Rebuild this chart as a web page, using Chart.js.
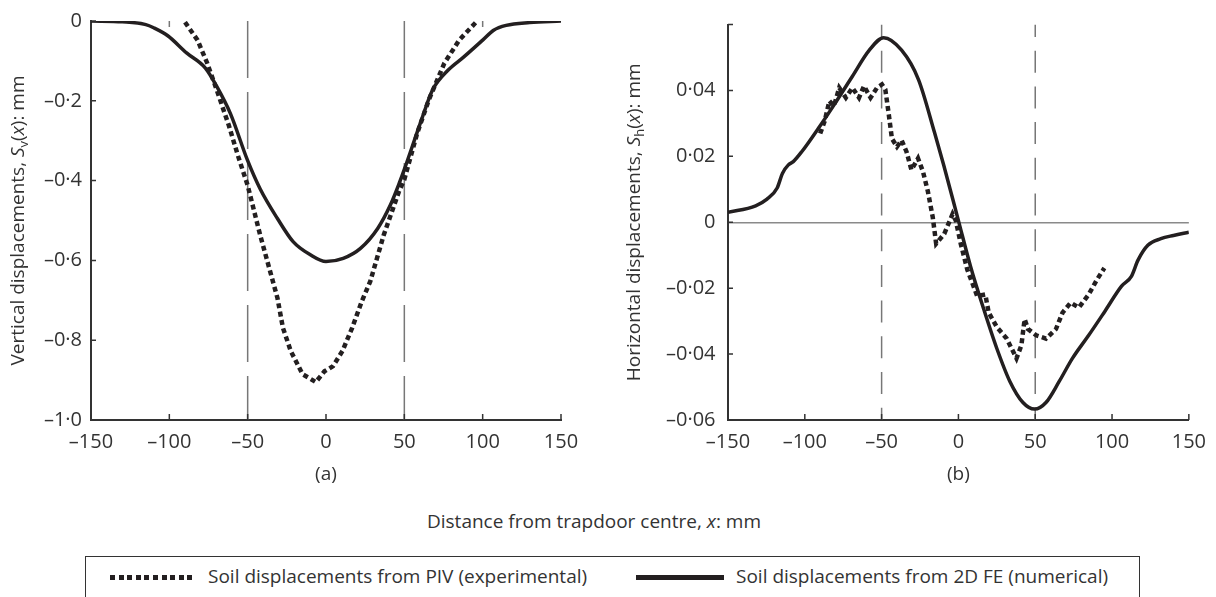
<!DOCTYPE html>
<html>
<head>
<meta charset="utf-8">
<script src="https://cdn.jsdelivr.net/npm/chart.js@4.4.1/dist/chart.umd.min.js"></script>
<style>
    body { margin: 0; width: 1216px; height: 597px; overflow: hidden; background: #fff; position: relative;
           font-family: 'Open Sans', sans-serif; color: #333; }
    canvas { position: absolute; top: 0; }
    #cvA { left: 0; }
    #cvB { left: 600px; }
    #xTitle { position: absolute; left: 0; width: 1188px; top: 510px; text-align: center; font-size: 19px; line-height: 23px; }
    #legend { position: absolute; left: 85px; top: 556px; width: 1055px; height: 70px; border: 1.5px solid #333; box-sizing: border-box; }
    .key { position: absolute; top: 18px; height: 4.5px; }
    .key.dots { left: 24px; width: 86px; background: repeating-linear-gradient(to right, #231f20 0 5px, transparent 5px 8.6px); }
    .key.solid { left: 550px; width: 88px; background: #231f20; }
    .lbl { position: absolute; top: 8px; font-size: 19px; line-height: 23px; white-space: nowrap; }
</style>
</head>
<body>
<canvas id="cvA" width="600" height="500"></canvas>
<canvas id="cvB" width="616" height="500"></canvas>
<div id="xTitle">Distance from trapdoor centre, <i>x</i>: mm</div>
<div id="legend">
    <div class="key dots"></div><div class="lbl" style="left:122px">Soil displacements from PIV (experimental)</div>
    <div class="key solid"></div><div class="lbl" style="left:650px">Soil displacements from 2D FE (numerical)</div>
</div>
<script>
// axes
const xTicks = [-150, -100, -50, 0, 50, 100, 150];
const trapdoorEdges = [-50, 50];
const topMarks = [-100, 100];
const vertTicks = [0, -0.2, -0.4, -0.6, -0.8, -1.0];
const horzTicks = [0.06, 0.04, 0.02, 0, -0.02, -0.04, -0.06];

// (a) vertical displacements
const vertFeX = [-150, -130, -115, -110, -101, -89, -77, -70, -61, -50, -42, -31, -21, -10, 0, 11, 22, 33, 41, 47, 50, 61, 68, 78, 88, 100, 107, 115, 130, 150];
const vertFeY = [0, -0.002, -0.009, -0.017, -0.037, -0.080, -0.118, -0.162, -0.232, -0.350, -0.421, -0.495, -0.553, -0.586, -0.603, -0.595, -0.570, -0.520, -0.462, -0.404, -0.372, -0.247, -0.173, -0.123, -0.090, -0.048, -0.023, -0.011, -0.004, 0];
const vertPivX = [-90, -82, -76, -70, -62, -56, -50, -42, -31, -27.5, -22.5, -15, -6.5, -1, 4.5, 10.5, 16.7, 22.8, 28.3, 36.8, 46.4, 50, 58.3, 65.7, 75.5, 85, 96];
const vertPivY = [-0.003, -0.048, -0.104, -0.170, -0.262, -0.340, -0.412, -0.537, -0.694, -0.769, -0.827, -0.885, -0.905, -0.878, -0.865, -0.827, -0.769, -0.703, -0.652, -0.537, -0.429, -0.397, -0.280, -0.197, -0.106, -0.048, -0.002];

// (b) horizontal displacements
const horzFeX = [-150, -132, -124.6, -118, -114.5, -110.7, -107.5, -102, -90, -80, -69, -58, -48.7, -37, -26, -15.6, -9.6, 0, 7.9, 16.5, 25, 33.5, 42, 49.6, 57, 65.6, 74.2, 84.8, 95.5, 106.2, 112.6, 116.9, 123.3, 131.8, 140, 150];
const horzFeY = [0.003, 0.005, 0.007, 0.0104, 0.0149, 0.0174, 0.0184, 0.0214, 0.0293, 0.0363, 0.0443, 0.0522, 0.056, 0.0522, 0.0433, 0.0273, 0.0174, 0.0005, -0.0134, -0.0264, -0.0383, -0.0483, -0.0547, -0.0567, -0.0547, -0.0483, -0.0413, -0.0343, -0.0269, -0.0194, -0.0164, -0.0115, -0.0070, -0.0050, -0.0040, -0.003];
const horzPivX = [-90, -87, -84, -81, -77.6, -73.3, -69, -64.7, -61.5, -57.2, -53, -49.8, -47.6, -45.5, -43.3, -40, -37, -33.8, -30.6, -26.3, -23.1, -19.9, -16.7, -14.5, -9.2, -3.8, -1.7, 1.5, 5.8, 9, 12.2, 17.5, 19.7, 25, 31.4, 37.8, 41, 43.1, 45.3, 50.6, 57, 63.5, 67.8, 73.1, 78.4, 84.8, 90.2, 95];
const horzPivY = [0.0269, 0.0308, 0.0368, 0.0353, 0.0408, 0.0378, 0.0408, 0.0378, 0.0413, 0.0378, 0.0408, 0.0418, 0.0403, 0.0333, 0.0254, 0.0229, 0.0249, 0.0214, 0.0159, 0.0194, 0.0154, 0.0094, 0.0015, -0.0065, -0.0035, 0.0025, 0.0005, -0.0065, -0.0144, -0.0184, -0.0224, -0.0219, -0.0274, -0.0318, -0.0353, -0.0413, -0.0373, -0.0294, -0.0324, -0.0343, -0.0353, -0.0324, -0.0274, -0.0244, -0.0259, -0.0219, -0.0174, -0.0139];

const INK = '#231f20';
const TEXT = '#333';
const FONT = "'Open Sans', sans-serif";

function pts(xs, ys) {
    return xs.map((x, i) => ({ x: x, y: ys[i] }));
}

// decimal point drawn as a middle dot, minus as en dash
function fmt(v, digits) {
    if (Math.abs(v) < 1e-9) return '0';
    const s = Math.abs(v).toFixed(digits).replace('.', '\u00b7');
    return v < 0 ? '\u2013' + s : s;
}

// ticks point into the plot
const inwardTicks = {
    id: 'inwardTicks',
    afterDatasetsDraw(chart) {
        const { ctx, chartArea, scales } = chart;
        ctx.save();
        ctx.strokeStyle = TEXT;
        ctx.lineWidth = 1.5;
        ctx.beginPath();
        scales.x.ticks.forEach(t => {
            const px = scales.x.getPixelForValue(t.value);
            ctx.moveTo(px, chartArea.bottom);
            ctx.lineTo(px, chartArea.bottom - 6);
        });
        scales.y.ticks.forEach(t => {
            const py = scales.y.getPixelForValue(t.value);
            ctx.moveTo(chartArea.left, py);
            ctx.lineTo(chartArea.left + 5, py);
        });
        ctx.stroke();
        ctx.restore();
    }
};

// y title with italic S, subscript and italic x
function richTitle(parts, x) {
    return {
        id: 'richTitle',
        afterDraw(chart) {
            const { ctx, chartArea } = chart;
            const fonts = { n: '19px ' + FONT, i: 'italic 19px ' + FONT, s: '13px ' + FONT };
            ctx.save();
            ctx.fillStyle = TEXT;
            ctx.textBaseline = 'middle';
            ctx.textAlign = 'left';
            const widths = parts.map(p => { ctx.font = fonts[p[1]]; return ctx.measureText(p[0]).width; });
            const total = widths.reduce((a, b) => a + b, 0);
            ctx.translate(x, (chartArea.top + chartArea.bottom) / 2);
            ctx.rotate(-Math.PI / 2);
            let pos = -total / 2;
            parts.forEach((p, i) => {
                ctx.font = fonts[p[1]];
                ctx.fillText(p[0], pos, p[1] === 's' ? 5 : 0);
                pos += widths[i];
            });
            ctx.restore();
        }
    };
}

function guide(x, y0, y1, dash, offset) {
    return { data: [{ x: x, y: y0 }, { x: x, y: y1 }], borderColor: '#777', borderWidth: 1.5,
             borderDash: dash, borderDashOffset: offset || 0, tension: 0 };
}

function makeChart(id, cfg) {
    const yMax = cfg.yTicks[0];
    const yMin = cfg.yTicks[cfg.yTicks.length - 1];
    const datasets = [
        { data: pts(cfg.pivX, cfg.pivY), borderColor: INK, borderWidth: 4.5, borderDash: [5, 3.5], tension: 0 },
        { data: pts(cfg.feX, cfg.feY), borderColor: INK, borderWidth: 3.5, cubicInterpolationMode: 'monotone' }
    ];
    trapdoorEdges.forEach(x => datasets.push(guide(x, yMax, yMin, cfg.dash, cfg.dashOffset)));
    (cfg.marks || []).forEach(x => datasets.push(guide(x, yMax, yMax - (yMax - yMin) * 0.015, [])));

    return new Chart(document.getElementById(id), {
        type: 'line',
        data: { datasets: datasets },
        options: {
            responsive: false,
            animation: false,
            devicePixelRatio: 1,
            layout: { padding: { top: 17, right: cfg.padRight, left: 0, bottom: 0 } },
            elements: { point: { radius: 0 } },
            plugins: { legend: { display: false }, tooltip: { enabled: false } },
            scales: {
                x: {
                    type: 'linear', min: xTicks[0], max: xTicks[xTicks.length - 1],
                    afterBuildTicks: s => { s.ticks = xTicks.map(v => ({ value: v })); },
                    afterFit: s => { s.height = 80; },
                    grid: { display: false, drawTicks: false },
                    border: { color: TEXT, width: 2 },
                    ticks: { padding: 10, color: TEXT, font: { family: FONT, size: 20 }, maxRotation: 0, autoSkip: false,
                             callback: v => fmt(v, 0) },
                    title: { display: true, text: cfg.panel, color: TEXT, font: { family: FONT, size: 19 },
                             padding: { top: 0, bottom: 14 } }
                },
                y: {
                    type: 'linear', min: yMin, max: yMax,
                    afterBuildTicks: s => { s.ticks = cfg.yTicks.map(v => ({ value: v })); },
                    afterFit: s => { s.width = cfg.axisLeft; },
                    grid: cfg.zeroLine
                        ? { drawTicks: false, lineWidth: 1.5,
                            color: c => (c.tick && Math.abs(c.tick.value) < 1e-9) ? '#8a8a8a' : 'rgba(0,0,0,0)' }
                        : { display: false, drawTicks: false },
                    border: { color: TEXT, width: 2 },
                    ticks: { padding: cfg.labelGap, color: TEXT, font: { family: FONT, size: 20 }, autoSkip: false,
                             callback: v => (cfg.hideTop && Math.abs(v - yMax) < 1e-9) ? '' : fmt(v, cfg.digits) }
                }
            }
        },
        plugins: [inwardTicks, richTitle(cfg.yTitle, cfg.titleX)]
    });
}

makeChart('cvA', {
    panel: '(a)', feX: vertFeX, feY: vertFeY, pivX: vertPivX, pivY: vertPivY,
    yTicks: vertTicks, digits: 1, axisLeft: 91, padRight: 39, labelGap: 9,
    dash: [57, 14], marks: topMarks, titleX: 19,
    yTitle: [['Vertical displacements, ', 'n'], ['S', 'i'], ['v', 's'], ['(', 'n'], ['x', 'i'], ['): mm', 'n']]
});

makeChart('cvB', {
    panel: '(b)', feX: horzFeX, feY: horzFeY, pivX: horzPivX, pivY: horzPivY,
    yTicks: horzTicks, digits: 2, axisLeft: 128, padRight: 21, labelGap: 12.5,
    dash: [22, 13.7], dashOffset: 9.5, zeroLine: true, hideTop: true, titleX: 35,
    yTitle: [['Horizontal displacements, ', 'n'], ['S', 'i'], ['h', 's'], ['(', 'n'], ['x', 'i'], ['): mm', 'n']]
});
</script>
</body>
</html>
